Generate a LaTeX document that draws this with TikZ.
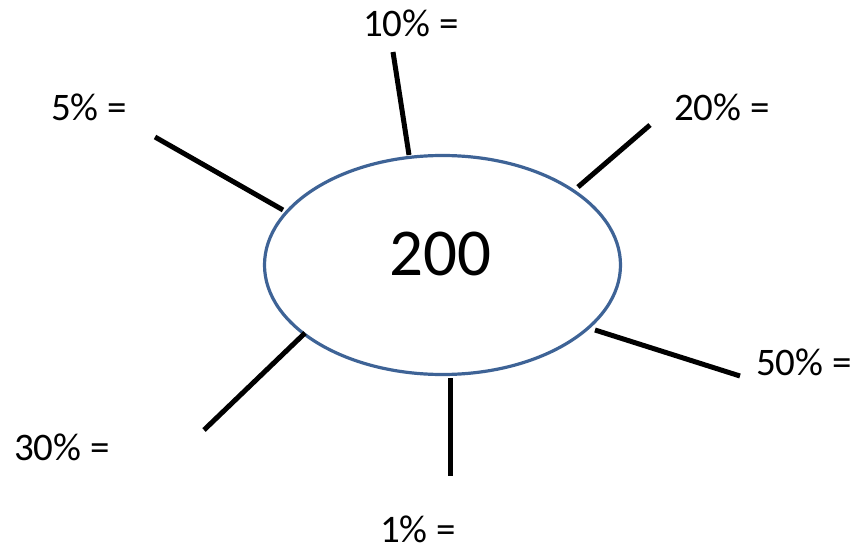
\documentclass[tikz,border=0pt]{standalone}
\usepackage{fontspec}
\setmainfont{Carlito}
\usetikzlibrary{shapes.geometric}
\definecolor{ovalblue}{RGB}{62,99,150}
\begin{document}
\begin{tikzpicture}[x=1pt,y=-1pt,
  lbl/.style={font=\fontsize{39}{40}\selectfont, inner sep=0pt, text depth=0pt, anchor=base west},
  spoke/.style={line width=5pt, black},
  oval/.style={draw=ovalblue, line width=3.2pt, ellipse, minimum width=356pt, minimum height=219pt, inner sep=0pt}]
\useasboundingbox (0,0) rectangle (855,549);
\node[oval] (c) at (442.5,265) {};
\node[font=\fontsize{67}{70}\selectfont, inner sep=0pt, anchor=base] (val) at (440.5,275) {200};
% spoke end points
\coordinate (a1) at (409,155); \coordinate (b1) at (393,52);
\coordinate (a2) at (578,187); \coordinate (b2) at (650,125);
\coordinate (a3) at (283,210); \coordinate (b3) at (155,137);
\coordinate (a4) at (595,330); \coordinate (b4) at (740,376);
\coordinate (a5) at (305,333); \coordinate (b5) at (204,430);
\coordinate (a6) at (450,378); \coordinate (b6) at (450,476);
\foreach \i in {1,...,6} \draw[spoke] (a\i) -- (b\i);
\node[lbl] (l10) at (363,36) {10\% =};
\node[lbl] (l20) at (674,120) {20\% =};
\node[lbl] (l5) at (51,120) {5\% =};
\node[lbl] (l50) at (756,375) {50\% =};
\node[lbl] (l30) at (14,460) {30\% =};
\node[lbl] (l1) at (380,542) {1\% =};
\end{tikzpicture}
\end{document}
